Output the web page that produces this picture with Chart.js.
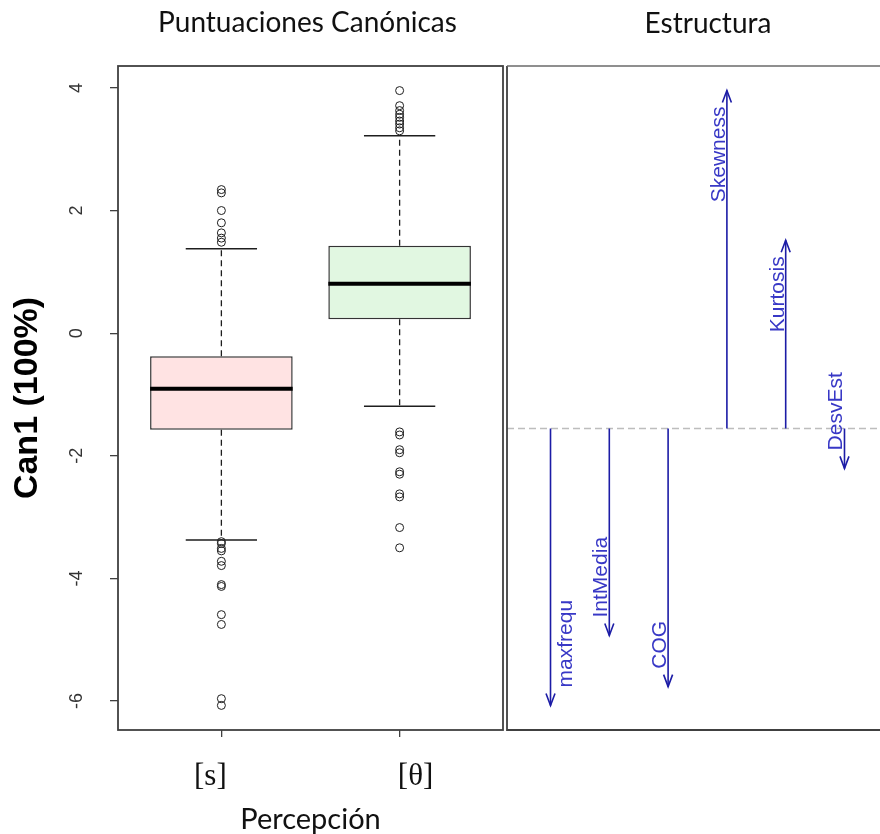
<!DOCTYPE html>
<html lang="es">
<head>
<meta charset="UTF-8">
<title>Puntuaciones Canónicas / Estructura</title>
<script src="https://cdn.jsdelivr.net/npm/chart.js@4.4.1/dist/chart.umd.min.js"></script>
<style>
  html, body { margin: 0; padding: 0; background: #fff; overflow: hidden; }
  #wrap { position: relative; width: 880px; height: 834px; overflow: hidden; }
  #scores { position: absolute; left: 0; top: 0; }
  #structure { position: absolute; left: 505px; top: 0; }
</style>
</head>
<body>
<div id="wrap">
  <canvas id="scores" width="508" height="834"></canvas>
  <canvas id="structure" width="383" height="834"></canvas>
</div>

<script>
// ---- left panel: canonical scores by group ----
const groups = ['[s]', '[θ]'];
const q1 = [-1.575, 0.228];
const median = [-0.906, 0.805];
const q3 = [-0.375, 1.424];
const whiskerLow = [-3.374, -1.19];
const whiskerHigh = [1.376, 3.22];
const outliersS = [2.342, 2.288, 2.0, 1.80, 1.636, 1.55, 1.483,
                   -3.40, -3.43, -3.51, -3.55, -3.72, -3.79, -4.10, -4.13, -4.59, -4.75, -5.96, -6.07];
const outliersTheta = [3.956, 3.71, 3.63, 3.57, 3.52, 3.46, 3.41, 3.35, 3.30,
                       -1.61, -1.66, -1.90, -1.95, -2.26, -2.30, -2.62, -2.67, -3.17, -3.50];
const yTicks = [-6, -4, -2, 0, 2, 4];

// ---- right panel: structure coefficients ----
const variables = ['maxfrequ', 'IntMedia', 'COG', 'Skewness', 'Kurtosis', 'DesvEst'];
const structure = [-0.590, -0.441, -0.550, 0.720, 0.401, -0.085];

// R-style axis range: data range widened by 4% on each side
function padRange(lo, hi) {
  const d = (hi - lo) * 0.04;
  return [lo - d, hi + d];
}

const allScores = [].concat(outliersS, outliersTheta, whiskerLow, whiskerHigh);
const yr = padRange(Math.min(...allScores), Math.max(...allScores));
const xr = padRange(0.5, groups.length + 0.5);

const boxColors = ['#ffe3e3', '#e1f7e1'];
const ink = '#1e1e1e';
const frameColor = '#404040';

// segments separated by null points
const whiskerData = [];
const capData = [];
const medianData = [];
groups.forEach((g, i) => {
  const c = i + 1;
  whiskerData.push({x: c, y: q3[i]}, {x: c, y: whiskerHigh[i]}, {x: c, y: null},
                   {x: c, y: q1[i]}, {x: c, y: whiskerLow[i]}, {x: c, y: null});
  capData.push({x: c - 0.2, y: whiskerHigh[i]}, {x: c + 0.2, y: whiskerHigh[i]}, {x: c, y: null},
               {x: c - 0.2, y: whiskerLow[i]}, {x: c + 0.2, y: whiskerLow[i]}, {x: c, y: null});
  medianData.push({x: c - 0.4, y: median[i]}, {x: c + 0.4, y: median[i]}, {x: c, y: null});
});
const outlierData = outliersS.map(v => ({x: 1, y: v}))
  .concat(outliersTheta.map(v => ({x: 2, y: v})));

const scoresDecor = {
  id: 'scoresDecor',
  afterDraw(chart) {
    const {ctx, chartArea: a, scales: {x}} = chart;
    ctx.save();
    ctx.strokeStyle = frameColor;
    ctx.lineWidth = 1.8;
    ctx.strokeRect(a.left, a.top, a.right - a.left, a.bottom - a.top);
    // group labels sit a little off their tick marks, as in the original
    const shift = [-11, 16];
    ctx.fillStyle = '#111';
    ctx.textAlign = 'center';
    ctx.textBaseline = 'alphabetic';
    ctx.font = '31px "Liberation Serif"';
    groups.forEach((g, i) => ctx.fillText(g, x.getPixelForValue(i + 1) + shift[i], a.bottom + 55));
    ctx.font = '28px Lato';
    ctx.fillText('Puntuaciones Canónicas', (a.left + a.right) / 2 - 3, 32);
    ctx.restore();
  }
};

new Chart(document.getElementById('scores'), {
  type: 'bar',
  data: {
    datasets: [
      {
        type: 'bar', order: 5,
        data: groups.map((g, i) => ({x: i + 1, y: [q1[i], q3[i]]})),
        backgroundColor: boxColors, borderColor: '#333', borderWidth: 1.5,
        borderSkipped: false, categoryPercentage: 0.8, barPercentage: 1.0
      },
      {
        type: 'line', order: 4, data: whiskerData,
        borderColor: ink, borderWidth: 1.3, borderDash: [6, 4], pointRadius: 0, spanGaps: false
      },
      {
        type: 'line', order: 3, data: capData,
        borderColor: ink, borderWidth: 1.5, pointRadius: 0, spanGaps: false
      },
      {
        type: 'line', order: 2, data: medianData,
        borderColor: '#000', borderWidth: 4, pointRadius: 0, spanGaps: false
      },
      {
        type: 'scatter', order: 1, data: outlierData,
        pointStyle: 'circle', pointRadius: 4, pointBorderWidth: 1,
        pointBorderColor: ink, pointBackgroundColor: 'rgba(0,0,0,0)'
      }
    ]
  },
  options: {
    responsive: false,
    animation: false,
    events: [],
    layout: { padding: { top: 66, right: 0, left: 0, bottom: 0 } },
    plugins: { legend: { display: false }, tooltip: { enabled: false } },
    scales: {
      x: {
        type: 'linear', min: xr[0], max: xr[1], offset: false,
        afterBuildTicks: s => { s.ticks = groups.map((g, i) => ({value: i + 1})); },
        afterFit: s => { s.height = 104; },
        grid: { offset: false, drawOnChartArea: false, tickLength: 7, color: frameColor, lineWidth: 1.3 },
        border: { display: false },
        ticks: { callback: () => '' },
        title: {
          display: true, text: 'Percepción', color: '#111',
          font: { family: 'Lato', size: 29, lineHeight: 1 },
          padding: { top: 0, bottom: 0 }
        }
      },
      y: {
        type: 'linear', min: yr[0], max: yr[1],
        afterBuildTicks: s => { s.ticks = yTicks.map(v => ({value: v})); },
        afterFit: s => { s.width = 118; },
        grid: { drawOnChartArea: false, tickLength: 8, color: frameColor, lineWidth: 1.3 },
        border: { display: false },
        ticks: {
          minRotation: 90, maxRotation: 90, crossAlign: 'center', padding: 25,
          color: '#333', font: { family: '"Liberation Sans"', size: 18 }
        },
        title: {
          display: true, text: 'Can1 (100%)', color: '#000',
          font: { family: '"Liberation Sans"', size: 34, weight: 'bold' },
          padding: { top: 7, bottom: 0 }
        }
      }
    }
  },
  plugins: [scoresDecor]
});

// ---- right panel ----
const sx = padRange(0.5, variables.length + 0.5);
const sy = padRange(Math.min(...structure), Math.max(...structure));
const arrowColor = '#1c1ca6';
const labelColor = '#3838c6';
const labelsOnRight = ['maxfrequ'];

const arrowData = [];
structure.forEach((s, i) => {
  arrowData.push({x: i + 1, y: 0}, {x: i + 1, y: s}, {x: i + 1, y: null});
});

const structureDecor = {
  id: 'structureDecor',
  afterDraw(chart) {
    const {ctx, chartArea: a, scales: {x, y}} = chart;
    ctx.save();
    ctx.strokeStyle = frameColor;
    ctx.lineWidth = 1.8;
    ctx.beginPath();
    ctx.moveTo(a.right + 5, a.bottom);
    ctx.lineTo(a.left, a.bottom);
    ctx.lineTo(a.left, a.top);
    ctx.stroke();
    ctx.strokeStyle = '#6a6a6a';
    ctx.lineWidth = 1.4;
    ctx.beginPath();
    ctx.moveTo(a.left, a.top);
    ctx.lineTo(a.right + 5, a.top);
    ctx.stroke();

    variables.forEach((v, i) => {
      const px = x.getPixelForValue(i + 1);
      const tip = y.getPixelForValue(structure[i]);
      const up = structure[i] >= 0;
      const back = up ? 12 : -12;
      ctx.strokeStyle = arrowColor;
      ctx.lineWidth = 1.6;
      ctx.beginPath();
      ctx.moveTo(px - 4.5, tip + back);
      ctx.lineTo(px, tip);
      ctx.lineTo(px + 4.5, tip + back);
      ctx.stroke();

      const onRight = labelsOnRight.includes(v);
      ctx.save();
      ctx.translate(onRight ? px + 21 : px - 2, up ? tip + 16 : tip - 18);
      ctx.rotate(-Math.PI / 2);
      ctx.font = '21px "Liberation Sans"';
      ctx.fillStyle = labelColor;
      ctx.textBaseline = 'alphabetic';
      ctx.textAlign = up ? 'right' : 'left';
      ctx.fillText(v, 0, 0);
      ctx.restore();
    });

    ctx.fillStyle = '#111';
    ctx.font = '28px Lato';
    ctx.textAlign = 'center';
    ctx.textBaseline = 'alphabetic';
    ctx.fillText('Estructura', 203, 33);
    ctx.restore();
  }
};

new Chart(document.getElementById('structure'), {
  type: 'line',
  data: {
    datasets: [
      {
        data: arrowData, borderColor: arrowColor, borderWidth: 1.6,
        pointRadius: 0, spanGaps: false
      },
      {
        data: [{x: sx[0], y: 0}, {x: sx[1], y: 0}],
        borderColor: '#bdbdbd', borderWidth: 1.5, borderDash: [7, 4], pointRadius: 0
      }
    ]
  },
  options: {
    responsive: false,
    animation: false,
    events: [],
    layout: { padding: { left: 2, top: 66, bottom: 104, right: 0 } },
    plugins: { legend: { display: false }, tooltip: { enabled: false } },
    scales: {
      x: { type: 'linear', display: false, min: sx[0], max: sx[1] },
      y: { type: 'linear', display: false, min: sy[0], max: sy[1] }
    }
  },
  plugins: [structureDecor]
});
</script>
</body>
</html>
